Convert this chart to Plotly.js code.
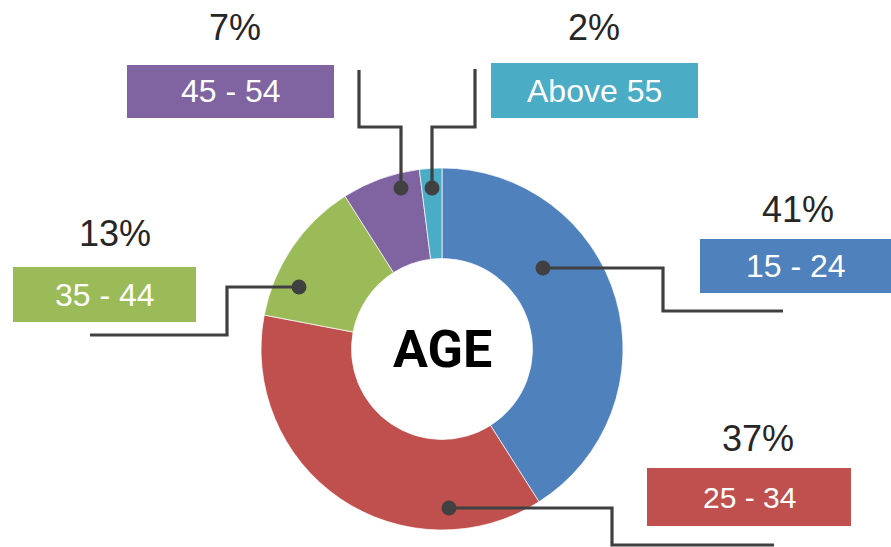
<!DOCTYPE html>
<html>
<head>
<meta charset="utf-8">
<script src="https://cdn.plot.ly/plotly-3.0.1.min.js"></script>
<style>
  html, body { margin: 0; padding: 0; background: #ffffff; }
  #chart { width: 891px; height: 547px; }
</style>
</head>
<body>
<div id="chart"></div>
<script>
// ---- data ----
var categories = ["15 - 24", "25 - 34", "35 - 44", "45 - 54", "Above 55"];
var shares = [41, 37, 13, 7, 2];
var sliceColors = ["#4F81BD", "#C0504D", "#9BBB59", "#8064A2", "#4BACC6"];
var centerLabel = "AGE";

// ---- layout helpers (pixel positions of callouts, not data) ----
var W = 891, H = 547;
var cx = 442, cy = 349, R = 181;
function px(x) { return x / W; }
function py(y) { return 1 - y / H; }

// callout boxes: [x0, y0, x1, y1], percent text position, label font size
var boxes = [
  { box: [700, 239, 891, 293], pct: [798, 209], fs: 32 },
  { box: [647, 468, 851, 526], pct: [758, 438], fs: 30 },
  { box: [13, 267, 196, 322],  pct: [115, 233], fs: 32 },
  { box: [127, 65, 334, 118],  pct: [235, 27],  fs: 32 },
  { box: [491, 63, 698, 118],  pct: [594, 27],  fs: 32 }
];
// leader lines (first point = dot)
var leaders = [
  [[543, 268], [663, 268], [663, 311], [783, 311]],
  [[449, 508], [612, 508], [612, 545], [774, 545]],
  [[299, 287], [227, 287], [227, 335], [90, 335]],
  [[401, 188], [401, 127], [359, 127], [359, 70]],
  [[432, 188], [432, 127], [475, 127], [475, 69]]
];

var lineColor = "#404040";
var shapes = [];
var annotations = [];

categories.forEach(function (cat, i) {
  var b = boxes[i];
  shapes.push({
    type: "rect", xref: "paper", yref: "paper",
    x0: px(b.box[0]), x1: px(b.box[2]), y0: py(b.box[3]), y1: py(b.box[1]),
    fillcolor: sliceColors[i], line: { width: 0 }, layer: "above"
  });
  annotations.push({
    xref: "paper", yref: "paper", showarrow: false,
    x: px((b.box[0] + b.box[2]) / 2), y: py((b.box[1] + b.box[3]) / 2),
    xanchor: "center", yanchor: "middle",
    text: cat,
    font: { family: "Liberation Sans, Arial, sans-serif", size: b.fs, color: "#ffffff" }
  });
  annotations.push({
    xref: "paper", yref: "paper", showarrow: false,
    x: px(b.pct[0]), y: py(b.pct[1]),
    xanchor: "center", yanchor: "middle",
    text: shares[i] + "%",
    font: { family: "Liberation Sans, Arial, sans-serif", size: 36, color: "#262626" }
  });
  var pts = leaders[i];
  var path = pts.map(function (p, k) {
    return (k === 0 ? "M " : "L ") + px(p[0]) + " " + py(p[1]);
  }).join(" ");
  shapes.push({
    type: "path", xref: "paper", yref: "paper", path: path,
    line: { color: lineColor, width: 3.2 }, layer: "above"
  });
  var r = 7.5;
  shapes.push({
    type: "circle", xref: "paper", yref: "paper",
    x0: px(pts[0][0] - r), x1: px(pts[0][0] + r),
    y0: py(pts[0][1] + r), y1: py(pts[0][1] - r),
    fillcolor: lineColor, line: { width: 0 }, layer: "above"
  });
});

annotations.push({
  xref: "paper", yref: "paper", showarrow: false,
  x: px(cx), y: py(cy), xanchor: "center", yanchor: "middle",
  text: "<b>" + centerLabel + "</b>",
  font: { family: "Roboto, Liberation Sans, sans-serif", size: 52, color: "#000000" }
});

var trace = {
  type: "pie",
  labels: categories,
  values: shares,
  sort: false,
  direction: "clockwise",
  rotation: 0,
  hole: 0.5,
  textinfo: "none",
  hoverinfo: "none",
  marker: { colors: sliceColors, line: { color: "#ffffff", width: 0.7 } },
  domain: { x: [px(cx - R), px(cx + R)], y: [py(cy + R), py(cy - R)] },
  showlegend: false
};

var layout = {
  width: W, height: H,
  margin: { l: 0, r: 0, t: 0, b: 0 },
  paper_bgcolor: "#ffffff",
  plot_bgcolor: "#ffffff",
  showlegend: false,
  shapes: shapes,
  annotations: annotations
};

Plotly.newPlot("chart", [trace], layout, { staticPlot: true, displayModeBar: false });
</script>
</body>
</html>
